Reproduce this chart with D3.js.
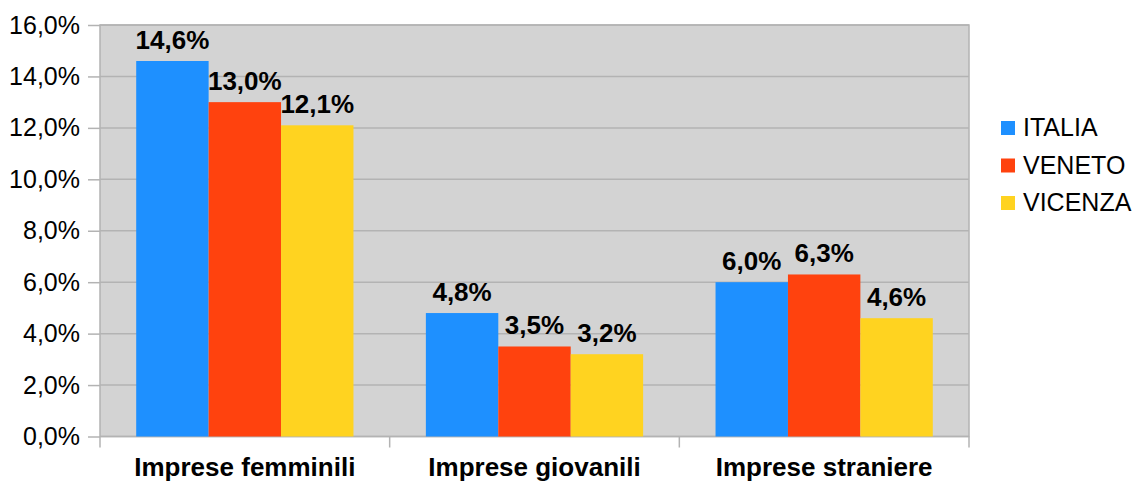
<!DOCTYPE html>
<html lang="it">
<head>
<meta charset="UTF-8">
<script src="https://cdn.jsdelivr.net/npm/d3@7"></script>
<title>Imprese</title>
<style>
    body { margin: 0; background: #fff; }
    text { font-family: "Liberation Sans", Arial, sans-serif; fill: #000; }
    .axis path { display: none; }
    .axis .tick line { stroke: #b3b3b3; stroke-width: 1.5; }
</style>
</head>
<body>
<div id="chart"></div>
<script>
    // dati
    var categories = ['Imprese femminili', 'Imprese giovanili', 'Imprese straniere'];
    var seriesNames = ['ITALIA', 'VENETO', 'VICENZA'];
    var italia = [14.6, 4.8, 6.0];
    var veneto = [13.0, 3.5, 6.3];
    var vicenza = [12.1, 3.2, 4.6];
    var yTicks = [0, 2, 4, 6, 8, 10, 12, 14, 16];

    var colors = ['#1e90ff', '#ff420e', '#ffd320'];
    var series = [italia, veneto, vicenza];

    var W = 1137, H = 481;
    var mLeft = 100, mRight = 969, mTop = 25, mBottom = 436.5;

    var svg = d3.select('#chart').append('svg')
        .attr('width', W).attr('height', H);

    var x = d3.scaleBand().domain(categories).range([mLeft, mRight]);
    var x1 = d3.scaleBand().domain(seriesNames).range([0, x.bandwidth()]).paddingOuter(0.5);
    var y = d3.scaleLinear().domain([0, 16]).range([mBottom, mTop]);

    var fmt = function (v) { return d3.format('.1f')(v).replace('.', ',') + '%'; };

    // sfondo
    svg.append('rect')
        .attr('x', mLeft).attr('y', mTop)
        .attr('width', mRight - mLeft).attr('height', mBottom - mTop)
        .attr('fill', '#d3d3d3').attr('stroke', '#b3b3b3').attr('stroke-width', 1.5);

    // griglia
    svg.append('g').selectAll('line').data(yTicks).enter().append('line')
        .attr('x1', mLeft).attr('x2', mRight)
        .attr('y1', function (d) { return y(d); }).attr('y2', function (d) { return y(d); })
        .attr('stroke', '#b3b3b3').attr('stroke-width', 1.5);

    // asse y
    var yAxis = d3.axisLeft(y).tickValues(yTicks).tickFormat(fmt).tickSize(12).tickPadding(8);
    var gy = svg.append('g').classed('axis', true)
        .attr('transform', 'translate(' + mLeft + ',0)').call(yAxis);
    gy.selectAll('text').style('font-size', '25px').attr('font-family', null);

    // asse x (tacche ai confini delle categorie)
    var bounds = [mLeft].concat(categories.map(function (c) { return x(c) + x.bandwidth(); }));
    svg.append('g').selectAll('line').data(bounds).enter().append('line')
        .attr('x1', function (d) { return d; }).attr('x2', function (d) { return d; })
        .attr('y1', mBottom).attr('y2', mBottom + 11)
        .attr('stroke', '#b3b3b3').attr('stroke-width', 1.5);

    svg.append('g').selectAll('text').data(categories).enter().append('text')
        .attr('x', function (d) { return x(d) + x.bandwidth() / 2; })
        .attr('y', 476)
        .attr('text-anchor', 'middle')
        .style('font-size', '26px').style('font-weight', 'bold')
        .text(function (d) { return d; });

    // barre
    series.forEach(function (vals, si) {
        var g = svg.append('g');
        g.selectAll('rect').data(vals).enter().append('rect')
            .attr('x', function (d, i) { return x(categories[i]) + x1(seriesNames[si]); })
            .attr('y', function (d) { return y(d); })
            .attr('width', x1.bandwidth())
            .attr('height', function (d) { return y(0) - y(d); })
            .attr('fill', colors[si]);
        g.selectAll('text').data(vals).enter().append('text')
            .attr('x', function (d, i) { return x(categories[i]) + x1(seriesNames[si]) + x1.bandwidth() / 2; })
            .attr('y', function (d) { return y(d) - 12; })
            .attr('text-anchor', 'middle')
            .style('font-size', '26px').style('font-weight', 'bold')
            .text(fmt);
    });

    // legenda
    var leg = svg.append('g').selectAll('g').data(seriesNames).enter().append('g')
        .attr('transform', function (d, i) { return 'translate(1001,' + (121 + i * 37.5) + ')'; });
    leg.append('rect').attr('width', 14).attr('height', 14)
        .attr('fill', function (d, i) { return colors[i]; });
    leg.append('text').attr('x', 22).attr('y', 15)
        .style('font-size', '25px')
        .text(function (d) { return d; });
</script>
</body>
</html>
